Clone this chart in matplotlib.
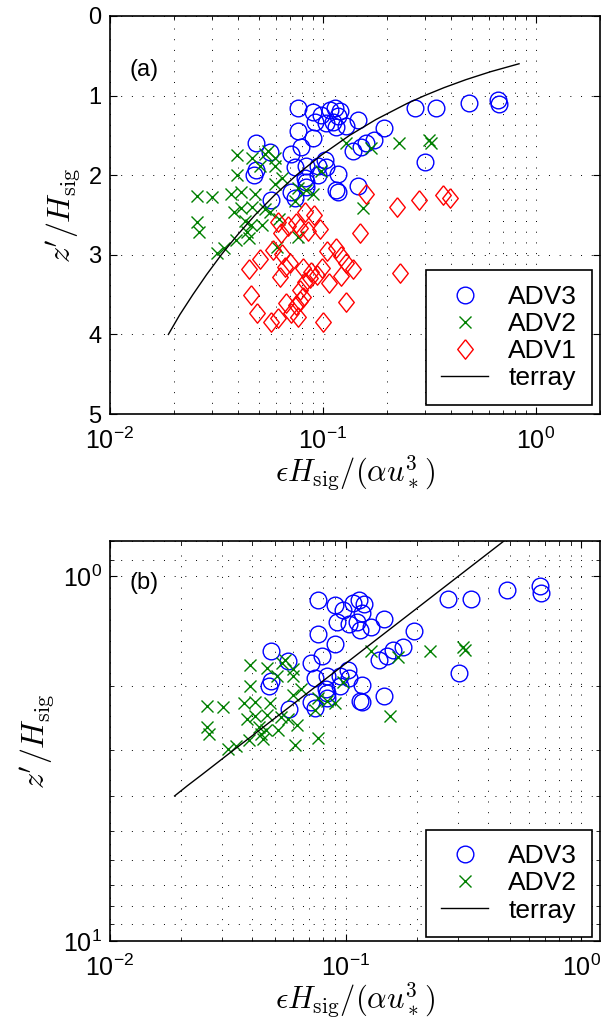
import matplotlib
matplotlib.use('Agg')
import matplotlib.pyplot as plt
from matplotlib.ticker import LogLocator, NullFormatter, FixedLocator
import numpy as np

plt.rcParams['font.family'] = ['Liberation Sans', 'DejaVu Sans']
plt.rcParams['mathtext.fontset'] = 'cm'

# eps*H_sig/(alpha*u_*^3) und z'/H_sig
adv3_x = [0.0765, 0.0898, 0.0979, 0.1078, 0.1137, 0.1200, 0.1174, 0.1113, 0.1149, 0.1033,
          0.0918, 0.1279, 0.1455, 0.0765, 0.0898, 0.0483, 0.0567, 0.0790, 0.0710, 0.0483,
          0.0472, 0.0741, 0.0834, 0.0948, 0.1033, 0.1174, 0.0825, 0.0834, 0.0834, 0.0710,
          0.0741, 0.0573, 0.1149, 0.0948, 0.1379, 0.1502, 0.1585, 0.1746, 0.1943, 0.2708,
          0.3390, 0.4828, 0.6660, 0.6730, 0.3013, 0.1022, 0.1174, 0.1455]
adv3_z = [1.16, 1.20, 1.24, 1.18, 1.16, 1.19, 1.26, 1.33, 1.40, 1.35,
          1.33, 1.38, 1.31, 1.44, 1.53, 1.60, 1.71, 1.65, 1.73, 1.94,
          2.00, 1.90, 1.88, 1.88, 1.90, 1.98, 2.03, 2.09, 2.15, 2.21,
          2.29, 2.31, 2.19, 2.00, 1.69, 1.65, 1.59, 1.56, 1.41, 1.15,
          1.15, 1.09, 1.06, 1.11, 1.84, 1.81, 2.21, 2.13]

adv2_x = [0.0394, 0.0463, 0.0537, 0.0555, 0.0598, 0.0598, 0.0509, 0.0394, 0.0257, 0.0301,
          0.0369, 0.0411, 0.0478, 0.0598, 0.0645, 0.0979, 0.0765, 0.0834, 0.0741, 0.0381,
          0.0411, 0.0463, 0.0532, 0.0257, 0.0262, 0.0429, 0.0458, 0.0515, 0.0438, 0.0448,
          0.0390, 0.0343, 0.0318, 0.0624, 0.0611, 0.0765, 0.0899, 0.1279, 0.1673, 0.2281,
          0.3146, 0.3214, 0.1535, 0.0567]
adv2_z = [1.75, 1.78, 1.73, 1.69, 1.79, 1.88, 1.88, 2.00, 2.26, 2.28,
          2.23, 2.21, 2.23, 2.11, 2.03, 1.95, 2.16, 2.19, 2.33, 2.46,
          2.41, 2.40, 2.43, 2.59, 2.71, 2.58, 2.63, 2.63, 2.71, 2.79,
          2.81, 2.91, 2.98, 2.55, 2.90, 2.78, 2.23, 1.60, 1.66, 1.60,
          1.56, 1.59, 2.41, 2.46]

adv1_x = [0.0825, 0.0908, 0.0618, 0.0687, 0.0749, 0.0782, 0.0852, 0.0968, 0.0638, 0.0585,
          0.0645, 0.0702, 0.0666, 0.0631, 0.0509, 0.0448, 0.0807, 0.0880, 0.0870, 0.0938,
          0.0989, 0.1044, 0.1149, 0.1213, 0.1279, 0.1379, 0.1213, 0.1066, 0.1279, 0.1486,
          0.0782, 0.0807, 0.0782, 0.0749, 0.0673, 0.0710, 0.0765, 0.0458, 0.0488, 0.0573,
          0.0618, 0.1000, 0.1585, 0.2233, 0.2827, 0.3655, 0.3937, 0.2306, 0.0825]
adv1_z = [2.46, 2.50, 2.59, 2.64, 2.60, 2.66, 2.70, 2.68, 2.73, 2.94,
          2.99, 3.10, 3.15, 3.28, 3.05, 3.18, 3.16, 3.21, 3.29, 3.25,
          3.16, 2.95, 2.91, 3.01, 3.10, 3.18, 3.26, 3.36, 3.59, 2.73,
          3.44, 3.53, 3.58, 3.63, 3.60, 3.73, 3.78, 3.50, 3.73, 3.85,
          3.80, 3.84, 2.23, 2.40, 2.31, 2.25, 2.29, 3.23, 3.34]

terray_z = [4.0, 3.75, 3.5, 3.25, 3.0, 2.75, 2.5, 2.25, 2.0, 1.75, 1.5, 1.3, 1.1, 1.0, 0.9, 0.8, 0.7, 0.6]
terray_x = [0.0188, 0.0213, 0.0245, 0.0284, 0.0333, 0.0397, 0.0480, 0.0593, 0.0750, 0.0980,
            0.1333, 0.1775, 0.2479, 0.3000, 0.3704, 0.4688, 0.6122, 0.8333]

raute = [(0, 1), (0.8, 0), (0, -1), (-0.8, 0), (0, 1)]
blau = (0, 0, 1)
gruen = (0, 0.5, 0)
rot = (1, 0, 0)

xlab = r'$\epsilon H_{\mathrm{sig}}/(\alpha u_*^3)$'
ylab = r"$z'/H_{\mathrm{sig}}$"

fig = plt.figure(figsize=(6.02, 10.19), dpi=100)
ax1 = fig.add_axes([0.1827, 0.5937, 0.814, 0.3906])
ax2 = fig.add_axes([0.1827, 0.0765, 0.814, 0.3925])


def style(ax):
    ax.set_xscale('log')
    ax.xaxis.set_minor_formatter(NullFormatter())
    ax.tick_params(which='both', direction='in', top=True, right=True)
    ax.tick_params(which='major', length=5, width=0.8)
    ax.tick_params(which='minor', length=3, width=0.6)
    ax.tick_params(axis='x', which='major', labelsize=18, pad=10)
    ax.tick_params(axis='y', which='major', labelsize=17, pad=6)
    ax.grid(True, which='both', linestyle=(0, (1, 10)), color='k', linewidth=0.7)
    for s in ax.spines.values():
        s.set_linewidth(1.2)
    ax.set_xlabel(xlab, fontsize=22, labelpad=-1)
    ax.set_ylabel(ylab, fontsize=23, labelpad=4)


def legende(ax, y0):
    leg = ax.legend(loc='lower right', bbox_to_anchor=(0.983, y0), fontsize=19, frameon=True,
                    fancybox=False, edgecolor='k', framealpha=1, handlelength=1.8,
                    labelspacing=0.12, borderpad=0.55, handletextpad=0.75, borderaxespad=0)
    leg.get_frame().set_linewidth(1.2)
    return leg


# (a)
ax1.plot(adv3_x, adv3_z, 'o', mfc='none', mec=blau, ms=12, mew=1.0, label='ADV3')
ax1.plot(adv2_x, adv2_z, 'x', color=gruen, ms=8, mew=1.0, label='ADV2')
ax1.plot(adv1_x, adv1_z, marker=raute, ls='none', mfc='none', mec=rot, ms=14, mew=1.0, label='ADV1')
ax1.plot(terray_x, terray_z, '-k', lw=1.0, label='terray')
style(ax1)
ax1.set_xlim(0.01, 2)
ax1.set_ylim(5, 0)
ax1.set_yticks([0, 1, 2, 3, 4, 5])
ax1.text(0.04, 0.865, '(a)', transform=ax1.transAxes, fontsize=17, va='center')
legende(ax1, 0.023)

# (b)
ax2.plot(adv3_x, adv3_z, 'o', mfc='none', mec=blau, ms=12, mew=1.0, label='ADV3')
ax2.plot(adv2_x, adv2_z, 'x', color=gruen, ms=8, mew=1.0, label='ADV2')
ax2.plot(terray_x, terray_z, '-k', lw=1.0, label='terray')
style(ax2)
ax2.set_yscale('log')
ax2.set_xlim(0.01, 1.2)
ax2.set_ylim(10, 0.8)
ax2.yaxis.set_major_locator(FixedLocator([1, 10]))
ax2.yaxis.set_minor_locator(LogLocator(base=10, subs=np.arange(2, 10), numticks=10))
ax2.yaxis.set_minor_formatter(NullFormatter())
ax2.tick_params(axis='y', which='major', labelsize=18)
ax2.text(0.04, 0.895, '(b)', transform=ax2.transAxes, fontsize=17, va='center')
legende(ax2, 0.01)

plt.savefig('out.png', dpi=100)
